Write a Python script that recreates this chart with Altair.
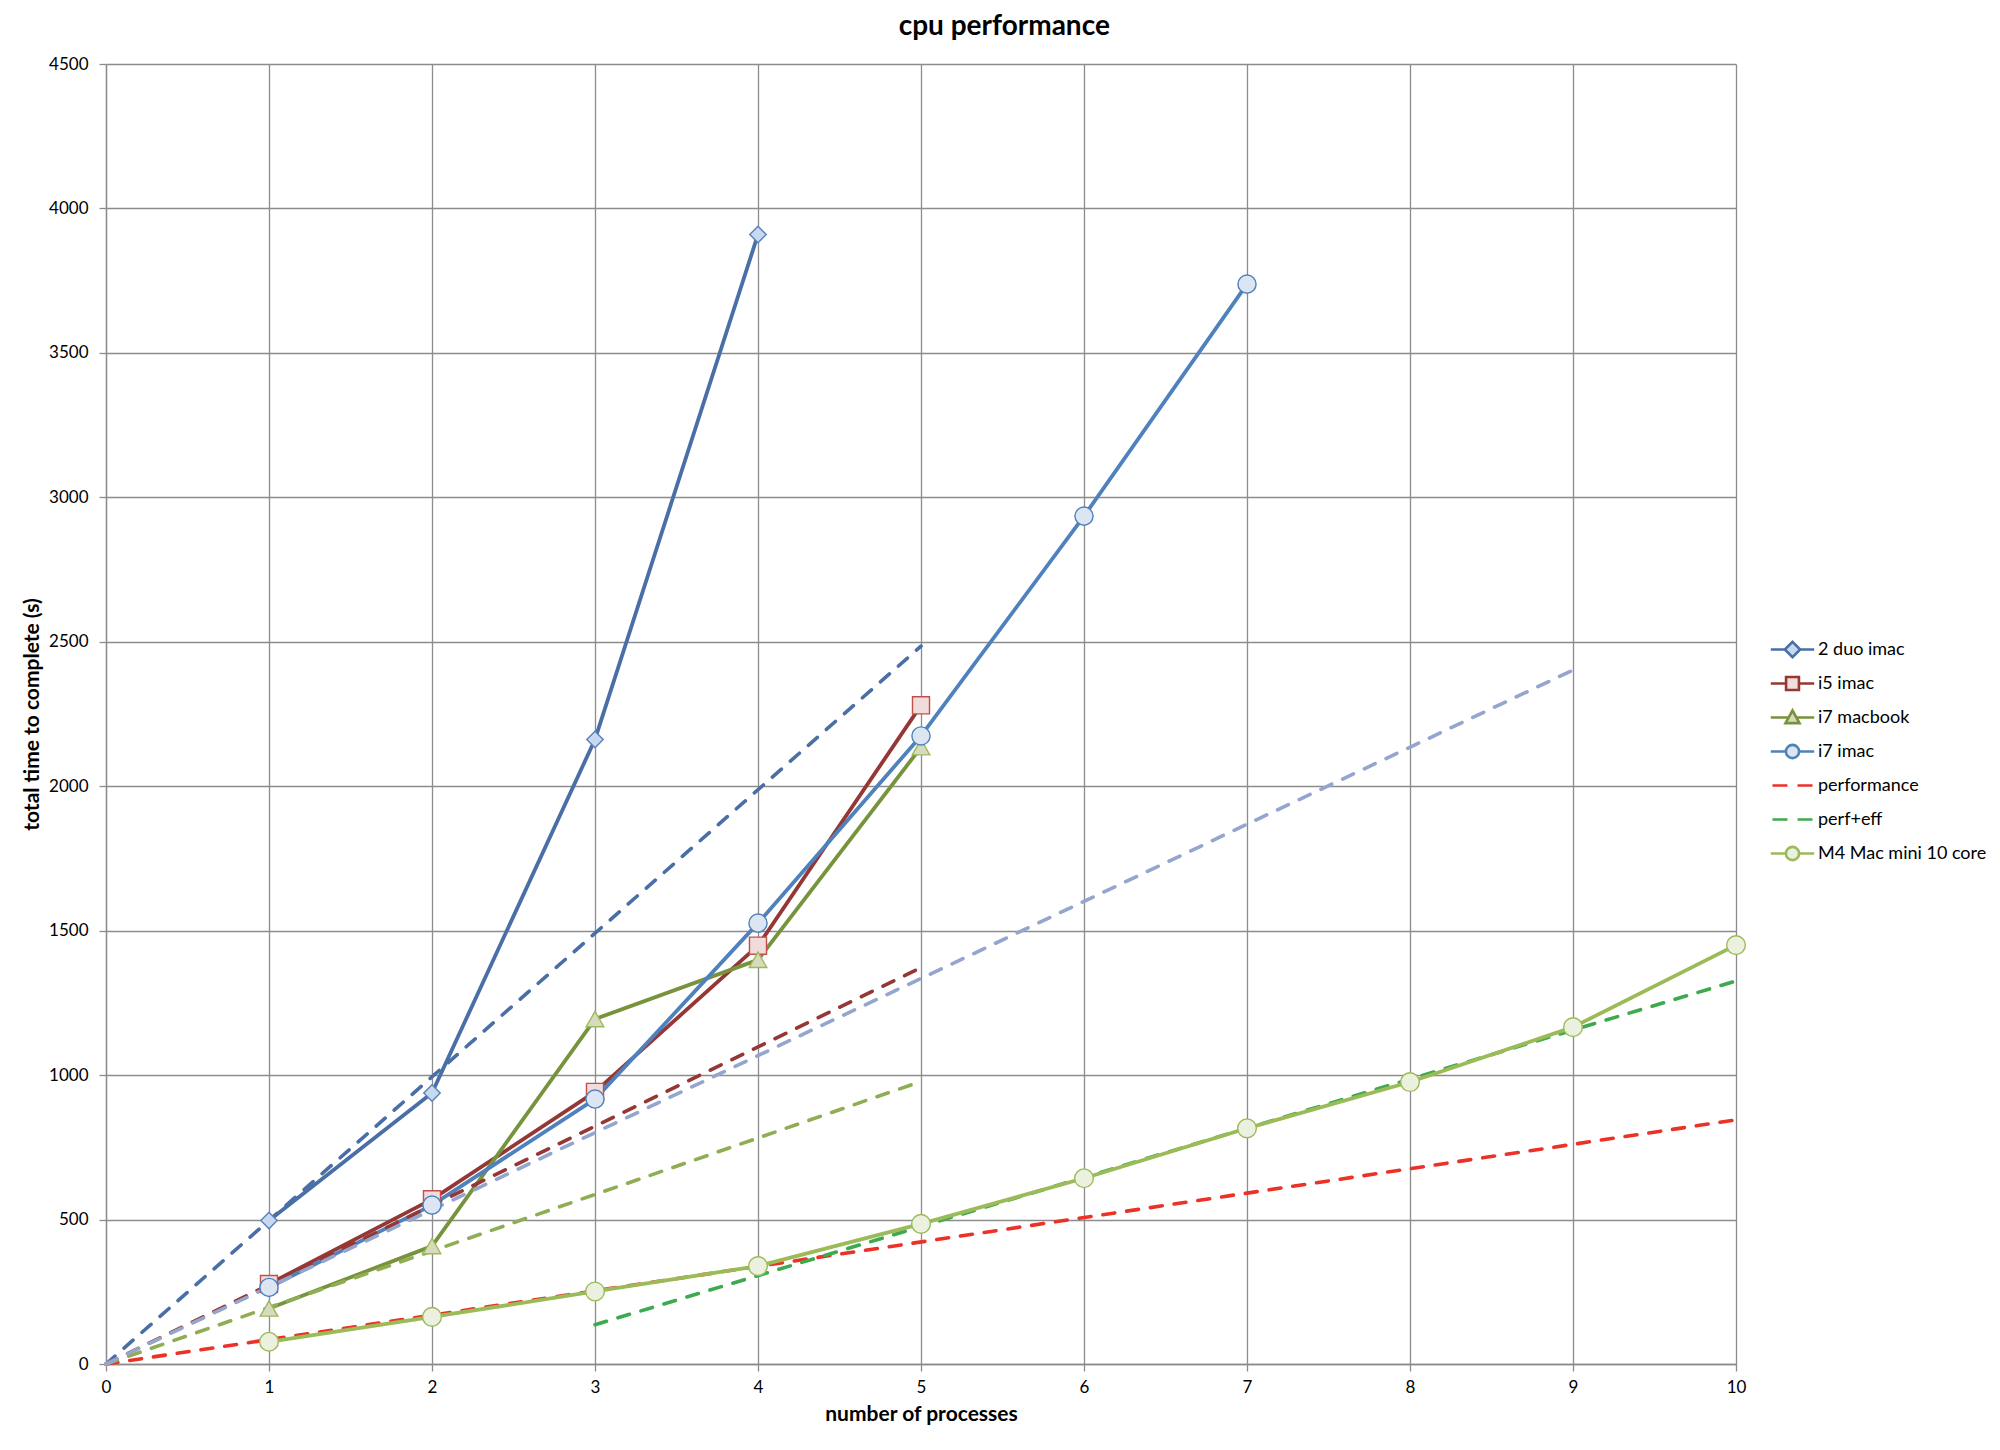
import altair as alt
import pandas as pd

# ---------------- data ----------------
series_names = ["2 duo imac", "i5 imac", "i7 macbook", "i7 imac",
                "performance", "perf+eff", "M4 Mac mini 10 core"]

procs_duo = [1, 2, 3, 4]
time_duo = [497, 938, 2162, 3910]

procs_i5 = [1, 2, 3, 4, 5]
time_i5 = [277, 570, 942, 1448, 2280]

procs_mac = [1, 2, 3, 4, 5]
time_mac = [192, 408, 1194, 1399, 2135]

procs_i7 = [1, 2, 3, 4, 5, 6, 7]
time_i7 = [265, 550, 917, 1526, 2174, 2935, 3738]

procs_m4 = [1, 2, 3, 4, 5, 6, 7, 8, 9, 10]
time_m4 = [77, 163, 251, 339, 485, 643, 816, 976, 1166, 1450]

procs_perf = [0, 10]
time_perf = [0, 845]

procs_perfeff = [3, 10]
time_perfeff = [136, 1326]

trend_names = ["duo trend", "i5 trend", "mac trend", "i7 trend"]
trend_duo_x, trend_duo_y = [0, 5], [0, 2485]
trend_i5_x, trend_i5_y = [0, 5], [0, 1372]
trend_mac_x, trend_mac_y = [0, 5], [0, 978]
trend_i7_x, trend_i7_y = [0, 9], [0, 2402]

x_ticks = [0, 1, 2, 3, 4, 5, 6, 7, 8, 9, 10]
y_ticks = [0, 500, 1000, 1500, 2000, 2500, 3000, 3500, 4000, 4500]

# ---------------- styles ----------------
line_colors = ["#4A6EA6", "#953735", "#77933C", "#4F81BD", "#EC3127", "#3CAA4E", "#9BBB59"]
marker_fills = ["#C6D9F1", "#F2DCDB", "#D8DABF", "#DCE6F2", "#FFFFFF", "#FFFFFF", "#EBF1DE"]
marker_strokes = ["#5A80B8", "#C0504D", "#9BBB59", "#4F81BD", "#EC3127", "#3CAA4E", "#9BBB59"]
trend_colors = ["#4A6EA6", "#953735", "#8FAE54", "#94A6CE"]

FONT = "Lato"
GRID = "#8C8C8C"


def frame(xs, ys, name, key="series"):
    return pd.DataFrame({"x": xs, "y": ys, key: [name] * len(xs)})


solid = pd.concat([
    frame(procs_duo, time_duo, series_names[0]),
    frame(procs_i5, time_i5, series_names[1]),
    frame(procs_mac, time_mac, series_names[2]),
    frame(procs_i7, time_i7, series_names[3]),
    frame(procs_m4, time_m4, series_names[6]),
])
dashed = pd.concat([
    frame(procs_perf, time_perf, series_names[4]),
    frame(procs_perfeff, time_perfeff, series_names[5]),
])
trends = pd.concat([
    frame(trend_duo_x, trend_duo_y, trend_names[0], "trend"),
    frame(trend_i5_x, trend_i5_y, trend_names[1], "trend"),
    frame(trend_mac_x, trend_mac_y, trend_names[2], "trend"),
    frame(trend_i7_x, trend_i7_y, trend_names[3], "trend"),
])

solid_names = [series_names[i] for i in (0, 1, 2, 3, 6)]
solid_colors = [line_colors[i] for i in (0, 1, 2, 3, 6)]

X = alt.X("x:Q", scale=alt.Scale(domain=[0, 10], nice=False, zero=False),
          axis=alt.Axis(values=x_ticks, title="number of processes", format="d", labelFlush=False))
Y = alt.Y("y:Q", scale=alt.Scale(domain=[0, 4500], nice=False),
          axis=alt.Axis(values=y_ticks, title="total time to complete (s)", format="d", labelFlush=False))

DASH = [12, 12]

dash_layer = alt.Chart(dashed).mark_line(
    strokeWidth=3.6, strokeDash=DASH, strokeCap="round"
).encode(
    x=X, y=Y,
    color=alt.Color("series:N", scale=alt.Scale(domain=series_names[4:6], range=line_colors[4:6]), legend=None),
)

solid_layer = alt.Chart(solid).mark_line(strokeWidth=3.8, strokeJoin="round").encode(
    x=X, y=Y,
    color=alt.Color("series:N", scale=alt.Scale(domain=solid_names, range=solid_colors), legend=None),
)

trend_layer = alt.Chart(trends).mark_line(
    strokeWidth=3.6, strokeDash=DASH, strokeCap="round"
).encode(
    x=X, y=Y,
    color=alt.Color("trend:N", scale=alt.Scale(domain=trend_names, range=trend_colors), legend=None),
)

point_layer = alt.Chart(solid).mark_point(filled=True, opacity=1, strokeWidth=1.4).encode(
    x=X, y=Y,
    shape=alt.Shape("series:N", scale=alt.Scale(
        domain=solid_names, range=["diamond", "square", "triangle-up", "circle", "circle"]), legend=None),
    fill=alt.Fill("series:N", scale=alt.Scale(
        domain=solid_names, range=[marker_fills[i] for i in (0, 1, 2, 3, 6)]), legend=None),
    stroke=alt.Stroke("series:N", scale=alt.Scale(
        domain=solid_names, range=[marker_strokes[i] for i in (0, 1, 2, 3, 6)]), legend=None),
    size=alt.Size("series:N", scale=alt.Scale(
        domain=solid_names, range=[270, 350, 310, 320, 320]), legend=None),
)

# legend symbols: line + marker, drawn as custom symbol paths
EXT = " M-1.6,-0.55 M1.6,0.55"
legend_shapes = [
    "M-1.55,0H-0.55 M0.55,0H1.55 M0,-0.55L0.55,0L0,0.55L-0.55,0Z" + EXT,
    "M-1.55,0H-0.46 M0.46,0H1.55 M-0.46,-0.46H0.46V0.46H-0.46Z" + EXT,
    "M-1.55,0H-0.26 M0.26,0H1.55 M0,-0.5L0.5,0.4L-0.5,0.4Z" + EXT,
    "M-1.55,0H-0.47 M0.47,0H1.55 M0.47,0A0.47,0.47,0,1,1,-0.47,0A0.47,0.47,0,1,1,0.47,0Z" + EXT,
    "M-1.43,0H-0.36 M0.36,0H1.43" + EXT,
    "M-1.43,0H-0.36 M0.36,0H1.43" + EXT,
    "M-1.55,0H-0.47 M0.47,0H1.55 M0.47,0A0.47,0.47,0,1,1,-0.47,0A0.47,0.47,0,1,1,0.47,0Z" + EXT,
]
legend_strokes = line_colors

leg = alt.Legend(
    title=None, orient="none", legendX=1671, legendY=570,
    symbolSize=784, symbolStrokeWidth=2.6, symbolOpacity=1,
    labelFont=FONT, labelFontSize=18, labelColor="#000000", labelLimit=400,
    labelOffset=10, rowPadding=5, padding=0,
)

legend_layer = alt.Chart(pd.DataFrame({"series": series_names})).mark_point(
    filled=True, opacity=1
).encode(
    shape=alt.Shape("series:N", scale=alt.Scale(domain=series_names, range=legend_shapes), legend=leg),
    fill=alt.Fill("series:N", scale=alt.Scale(domain=series_names, range=marker_fills), legend=leg),
    stroke=alt.Stroke("series:N", scale=alt.Scale(domain=series_names, range=legend_strokes), legend=leg),
).transform_filter("false")

chart = alt.layer(
    dash_layer, solid_layer, trend_layer, point_layer, legend_layer
).resolve_scale(
    color="independent", fill="independent", stroke="independent",
    shape="independent", size="independent",
).properties(
    width=1630, height=1300,
    padding={"left": 13, "top": 5, "right": 5, "bottom": 5},
    title=alt.TitleParams("cpu performance", font=FONT, fontSize=28, fontWeight="bold",
                          anchor="middle", frame="bounds", offset=14, color="#000000"),
).configure_view(
    stroke=None
).configure_axis(
    grid=True, gridColor=GRID, gridWidth=1.3, gridOpacity=1,
    domainColor=GRID, domainWidth=1.3, tickColor=GRID, tickWidth=1.3, tickSize=7,
    labelFont=FONT, labelFontSize=17, labelColor="#000000",
    titleFont=FONT, titleFontSize=21, titleFontWeight="bold", titleColor="#000000",
).configure_axisX(
    labelPadding=8, titlePadding=8,
).configure_axisY(
    labelPadding=11, titlePadding=6,
)

chart.save("out.html", embed_options={"renderer": "svg", "actions": False})
